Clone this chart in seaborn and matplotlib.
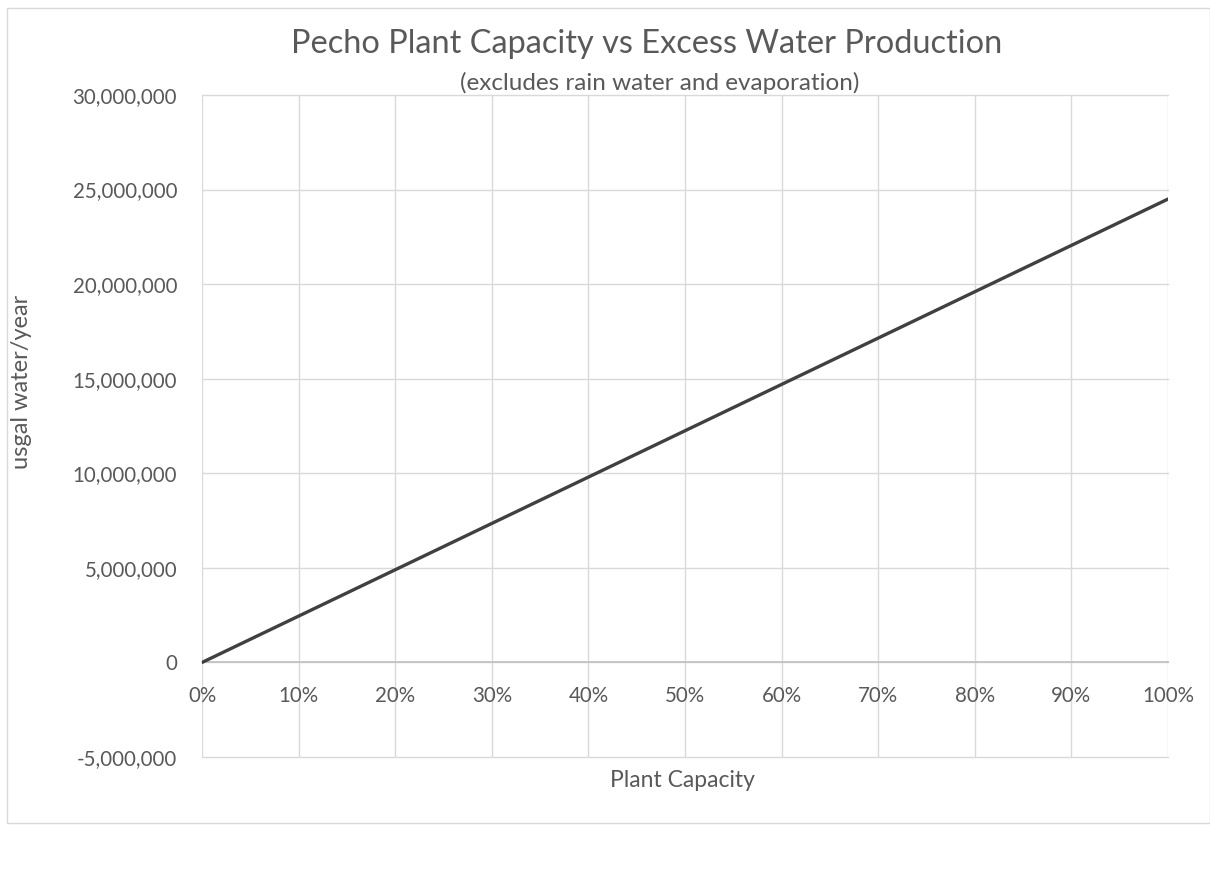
import numpy as np
import pandas as pd
import matplotlib.pyplot as plt
import matplotlib.ticker as mticker
from matplotlib.patches import Rectangle
import seaborn as sns

# values
capacity = [0.0, 0.1, 0.2, 0.3, 0.4, 0.5, 0.6, 0.7, 0.8, 0.9, 1.0]
water = [0, 2450000, 4900000, 7350000, 9800000, 12250000,
         14700000, 17150000, 19600000, 22050000, 24500000]
y_ticks = [-5000000, 0, 5000000, 10000000, 15000000, 20000000, 25000000, 30000000]
x_ticks = capacity

title = "Pecho Plant Capacity vs Excess Water Production"
subtitle = "(excludes rain water and evaporation)"

sns.set_style("white")
plt.rcParams["font.family"] = ["Lato", "DejaVu Sans"]
text_col = "#595959"
grid_col = "#d9d9d9"

df = pd.DataFrame({"Plant Capacity": capacity, "usgal water/year": water})

fig = plt.figure(figsize=(12.1, 8.71), dpi=100)
ax = fig.add_axes([0.167, 0.1309, 0.7983, 0.76])

sns.lineplot(data=df, x="Plant Capacity", y="usgal water/year", ax=ax,
             color="#404040", linewidth=2.4, zorder=3)

ax.set_xlim(0, 1)
ax.set_ylim(-5000000, 30000000)
ax.set_xticks(x_ticks)
ax.set_yticks(y_ticks)
ax.xaxis.set_major_formatter(mticker.FuncFormatter(lambda v, p: f"{v * 100:.0f}%"))
ax.yaxis.set_major_formatter(mticker.FuncFormatter(lambda v, p: f"{v:,.0f}"))
ax.grid(True, color=grid_col, linewidth=1.0)
ax.set_axisbelow(True)
for gl in ax.get_xgridlines() + ax.get_ygridlines():
    gl.set_clip_on(False)

for s in ["top", "right", "left"]:
    ax.spines[s].set_visible(False)
ax.spines["bottom"].set_position(("data", 0))
ax.spines["bottom"].set_color("#bfbfbf")
ax.spines["bottom"].set_linewidth(1.2)

ax.tick_params(axis="both", length=0, labelsize=14.8, colors=text_col)
ax.tick_params(axis="x", pad=17)
ax.tick_params(axis="y", pad=18)
ax.set_xlabel("")
ax.set_ylabel("")

fig.text(0.564, 0.104, "Plant Capacity", ha="center", va="center",
         fontsize=16.5, color=text_col)
fig.text(0.018, 0.561, "usgal water/year", ha="center", va="center",
         rotation=90, fontsize=17, color=text_col)
fig.text(0.534, 0.949, title, ha="center", va="center",
         fontsize=23.4, color=text_col)
fig.text(0.545, 0.905, subtitle, ha="center", va="center",
         fontsize=17.5, color=text_col)

# chart area border
fig.patches.append(Rectangle((0.006, 0.055), 0.994, 0.936, transform=fig.transFigure,
                             fill=False, edgecolor="#d9d9d9", linewidth=1.0))

fig.savefig("out.png", dpi=100)
